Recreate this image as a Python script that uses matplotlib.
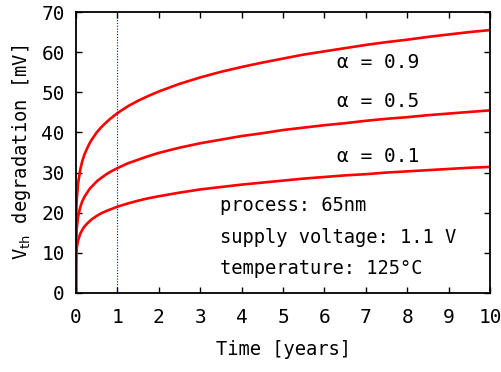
import numpy as np
import matplotlib
matplotlib.use("Agg")
import matplotlib.pyplot as plt

plt.rcParams['font.family'] = ['DejaVu Sans Mono', 'DejaVu Sans']
plt.rcParams['mathtext.fontset'] = 'dejavusans'

# time axis in years [mV]
t = [0, 0.0002, 0.001, 0.005, 0.01, 0.02, 0.05, 0.1, 0.15, 0.2, 0.25, 0.3,
     0.35, 0.4, 0.5, 0.6, 0.75, 0.85, 1, 1.25, 1.5, 1.75, 2, 2.5, 3, 3.5,
     4, 4.5, 5, 5.5, 6, 6.5, 7, 7.5, 8, 8.5, 9, 9.5, 10]
vth_a09 = [0, 11.0, 14.3, 18.7, 21.0, 23.5, 27.3, 30.6, 32.8, 34.4, 35.6, 36.7,
           37.7, 38.5, 40.0, 41.2, 42.7, 43.6, 44.8, 46.5, 47.9, 49.1, 50.2,
           52.1, 53.7, 55.1, 56.3, 57.4, 58.4, 59.4, 60.2, 61.0, 61.8, 62.5,
           63.1, 63.8, 64.4, 65.0, 65.5]
vth_a05 = [0, 7.6, 9.9, 13.0, 14.6, 16.3, 19.0, 21.3, 22.8, 23.9, 24.7, 25.5,
           26.2, 26.7, 27.8, 28.6, 29.7, 30.3, 31.1, 32.3, 33.2, 34.1, 34.9,
           36.2, 37.3, 38.2, 39.1, 39.8, 40.6, 41.2, 41.8, 42.3, 42.9, 43.4,
           43.8, 44.3, 44.7, 45.1, 45.5]
vth_a01 = [0, 5.3, 6.9, 9.0, 10.1, 11.3, 13.1, 14.7, 15.7, 16.5, 17.1, 17.6,
           18.1, 18.5, 19.2, 19.8, 20.5, 20.9, 21.5, 22.3, 23.0, 23.6, 24.1,
           25.0, 25.8, 26.4, 27.0, 27.5, 28.0, 28.5, 28.9, 29.3, 29.6, 30.0,
           30.3, 30.6, 30.9, 31.2, 31.4]

labels = ['α = 0.9', 'α = 0.5', 'α = 0.1']
label_y = [57.5, 47.6, 34.0]
notes = ['process: 65nm', 'supply voltage: 1.1 V', 'temperature: 125°C']
note_y = [21.9, 13.9, 6.0]

fig = plt.figure(figsize=(5.02, 3.72), dpi=100)
ax = fig.add_axes([0.1514, 0.2124, 0.8247, 0.7553])

for v in (vth_a09, vth_a05, vth_a01):
    ax.plot(t, v, color='red', lw=1.9, solid_joinstyle='round')

ax.axvline(1, color='blue', lw=0.8, ls=(0, (1, 1.5)))

for s, y in zip(labels, label_y):
    ax.text(6.3, y, s, fontsize=14, va='center', ha='left')
for s, y in zip(notes, note_y):
    ax.text(3.48, y, s, fontsize=13.5, va='center', ha='left')

ax.set_xlim(0, 10)
ax.set_ylim(0, 70)
ax.set_xticks(range(0, 11))
ax.set_yticks(range(0, 71, 10))
ax.tick_params(direction='in', top=True, right=True, length=4, width=1,
               labelsize=14)
ax.tick_params(axis='x', pad=11)
ax.tick_params(axis='y', pad=8)
for sp in ax.spines.values():
    sp.set_linewidth(1.3)

ax.set_xlabel('Time [years]', fontsize=13.5, labelpad=9)
ax.set_ylabel('V$_{\\mathrm{th}}$ degradation [mV]', fontsize=13.5, labelpad=6)

fig.savefig('out.png', dpi=100)
